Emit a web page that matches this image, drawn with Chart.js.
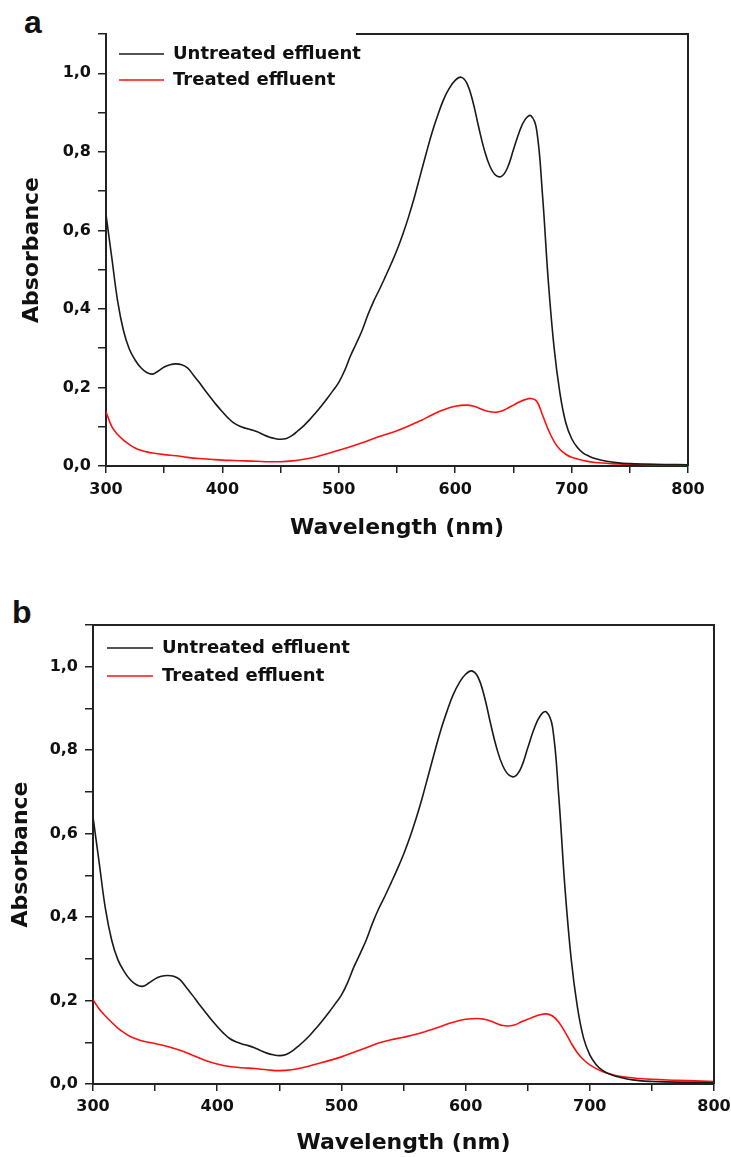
<!DOCTYPE html>
<html>
<head>
<meta charset="utf-8">
<title>UV-Vis absorbance of effluent</title>
<script src="https://cdn.jsdelivr.net/npm/chart.js@4.4.1/dist/chart.umd.min.js"></script>
<style>
  html, body { margin: 0; padding: 0; background: #fff; }
  body { width: 731px; height: 1157px; position: relative; overflow: hidden; }
  canvas { position: absolute; left: 0; }
  .panel-label { position: absolute; font: bold 32px "Liberation Sans", Arial, sans-serif; line-height: 1; color: #111; }
</style>
</head>
<body>
<div class="panel-label" style="left:24px; top:6px;">a</div>
<canvas id="chartA" width="731" height="546" style="top:0px;"></canvas>
<div class="panel-label" style="left:12px; top:596px;">b</div>
<canvas id="chartB" width="731" height="577" style="top:580px;"></canvas>

<script>
// ---- spectra (wavelength in nm, absorbance) ----
const wlUntreated = [300,305,310,315,320,325,330,335,340,345,350,355,360,365,370,375,380,385,390,395,
  400,405,410,415,420,425,430,435,440,445,450,455,460,465,470,475,480,485,490,495,
  500,505,510,515,520,525,530,535,540,545,550,555,560,565,570,575,580,585,590,595,
  600,605,610,615,620,625,630,635,640,645,650,655,660,665,670,675,680,685,690,695,
  700,705,710,715,720,730,740,750,760,780,800];
const absUntreated = [0.64,0.53,0.42,0.345,0.298,0.27,0.25,0.238,0.234,0.242,
  0.252,0.258,0.26,0.258,0.25,0.232,0.213,0.193,0.174,0.155,
  0.138,0.122,0.109,0.101,0.096,0.092,0.087,0.08,0.074,0.07,
  0.068,0.07,0.078,0.09,0.103,0.118,0.135,0.153,0.172,0.192,
  0.213,0.243,0.28,0.312,0.345,0.385,0.42,0.45,0.482,0.515,
  0.55,0.59,0.635,0.685,0.74,0.795,0.848,0.893,0.933,0.962,
  0.982,0.99,0.975,0.93,0.865,0.805,0.762,0.74,0.738,0.76,
  0.805,0.85,0.882,0.892,0.855,0.69,0.47,0.3,0.185,0.11,
  0.07,0.047,0.033,0.025,0.019,0.012,0.008,0.006,0.005,0.004,0.003];

const wlTreatedA = [300,305,310,315,320,325,330,335,340,350,360,370,380,390,400,410,420,430,440,
  450,460,470,480,490,500,510,520,530,540,550,560,570,580,590,600,610,
  615,620,625,630,635,640,645,650,655,660,665,670,675,680,685,690,695,700,
  710,720,730,740,760,780,800];
const absTreatedA = [0.138,0.1,0.08,0.066,0.055,0.046,0.04,0.036,0.033,0.029,0.026,0.022,0.019,0.017,0.015,0.014,0.013,0.012,0.011,
  0.011,0.013,0.017,0.023,0.031,0.04,0.049,0.059,0.07,0.08,0.09,0.102,0.115,0.13,0.143,0.152,0.155,
  0.153,0.148,0.142,0.138,0.137,0.14,0.147,0.155,0.163,0.169,0.172,0.165,0.13,0.092,0.062,0.042,0.03,0.022,
  0.014,0.009,0.007,0.005,0.004,0.003,0.003];

const wlTreatedB = [300,305,310,315,320,325,330,335,340,350,360,370,380,390,400,410,420,430,440,
  450,460,470,480,490,500,510,520,530,540,550,560,570,580,590,600,610,
  615,620,625,630,635,640,645,650,655,660,665,670,675,680,685,690,695,700,
  710,720,730,740,750,770,800];
const absTreatedB = [0.202,0.18,0.163,0.148,0.134,0.123,0.114,0.108,0.103,0.097,0.09,0.081,0.069,0.057,0.048,0.042,0.039,0.037,0.034,
  0.032,0.034,0.04,0.048,0.056,0.065,0.076,0.087,0.098,0.106,0.112,0.119,0.128,0.138,0.148,0.155,0.157,
  0.155,0.151,0.145,0.14,0.139,0.142,0.149,0.155,0.161,0.166,0.168,0.163,0.148,0.125,0.098,0.075,0.058,0.046,
  0.03,0.021,0.016,0.013,0.011,0.009,0.006];

const seriesNames = ['Untreated effluent', 'Treated effluent'];
const xTickLabels = [300, 400, 500, 600, 700, 800];
const yTickLabels = ['0,0', '0,2', '0,4', '0,6', '0,8', '1,0'];

// ---- shared look ----
Chart.defaults.font.family = "'DejaVu Sans', sans-serif";
Chart.defaults.color = '#111';
const INK = '#222';

const pairs = (xs, ys) => xs.map((x, i) => ({ x, y: ys[i] }));

// Places the legend inside the plot area at a fixed offset from its top-left corner.
const legendInside = {
  id: 'legendInside',
  afterLayout(chart, args, opts) {
    const lg = chart.legend, ca = chart.chartArea;
    if (!lg) return;
    lg.left = ca.left + opts.dx;
    lg.top = ca.top + opts.dy;
    lg.right = ca.right;
    lg.bottom = ca.bottom;
  }
};

// Draws the top and right edges of the plot frame; the top edge can stop short of the legend.
const plotFrame = {
  id: 'plotFrame',
  afterDatasetsDraw(chart, args, opts) {
    const { ctx, chartArea: ca } = chart;
    let x0 = ca.left;
    if (opts.skipLegend && chart.legend) {
      const lg = chart.legend, lab = lg.options.labels;
      ctx.save();
      ctx.font = Chart.helpers.toFont(lab.font).string;
      const tw = Math.max(...seriesNames.map(s => ctx.measureText(s).width));
      ctx.restore();
      x0 = lg.left + lab.padding + lab.pointStyleWidth + lab.font.size / 2 + tw - 5;
    }
    ctx.save();
    ctx.strokeStyle = INK;
    ctx.lineWidth = 2;
    ctx.beginPath();
    ctx.moveTo(x0, ca.top);
    ctx.lineTo(ca.right, ca.top);
    ctx.lineTo(ca.right, ca.bottom);
    ctx.stroke();
    ctx.restore();
  }
};

function makePanel(canvasId, wlTreated, absTreated, g) {
  return new Chart(document.getElementById(canvasId), {
    type: 'line',
    data: {
      datasets: [
        { label: seriesNames[0], data: pairs(wlUntreated, absUntreated),
          borderColor: '#1a1a1a', backgroundColor: '#1a1a1a', borderWidth: 1.6 },
        { label: seriesNames[1], data: pairs(wlTreated, absTreated),
          borderColor: '#ff1010', backgroundColor: '#ff1010', borderWidth: 1.6 }
      ]
    },
    options: {
      responsive: false,
      animation: false,
      devicePixelRatio: 1,
      parsing: false,
      elements: {
        point: { radius: 0, hoverRadius: 0 },
        line: { tension: 0.4, fill: false }
      },
      layout: { padding: { left: 0, top: g.padTop, right: g.padRight, bottom: 0 } },
      scales: {
        x: {
          type: 'linear', min: 300, max: 800,
          ticks: {
            stepSize: 50, autoSkip: false, maxRotation: 0, padding: g.xTickPad,
            font: { size: 16, weight: 'bold' }, color: '#111',
            callback: v => xTickLabels.includes(v) ? String(v) : ''
          },
          grid: { drawOnChartArea: false, drawTicks: true, tickLength: 7, color: INK, lineWidth: 1.5 },
          border: { display: true, color: INK, width: 2 },
          title: { display: true, text: 'Wavelength (nm)', color: '#111',
            font: { size: 22, weight: 'bold' }, padding: { top: 0, bottom: g.xTitlePad } },
          afterFit(s) { s.height = g.xAxisH; s.paddingLeft = 0; s.paddingRight = 0; }
        },
        y: {
          type: 'linear', min: 0, max: 1.1,
          ticks: {
            stepSize: 0.1, autoSkip: false, padding: 7,
            font: { size: 16, weight: 'bold' }, color: '#111',
            callback: v => {
              const k = Math.round(v * 10);
              return k % 2 === 0 ? (yTickLabels[k / 2] || '') : '';
            }
          },
          grid: { drawOnChartArea: false, drawTicks: true, tickLength: 8, color: INK, lineWidth: 1.5 },
          border: { display: true, color: INK, width: 2 },
          title: { display: true, text: 'Absorbance', color: '#111',
            font: { size: 22, weight: 'bold' }, padding: { top: g.yTitlePad, bottom: 0 } },
          afterFit(s) { s.width = g.yAxisW; s.paddingTop = 0; s.paddingBottom = 0; }
        }
      },
      plugins: {
        legend: {
          position: 'chartArea', align: 'start',
          labels: {
            usePointStyle: true, pointStyle: 'line', pointStyleWidth: g.legendLine,
            padding: g.legendPad, color: '#111', font: { size: 18, weight: 'bold' }
          }
        },
        tooltip: { enabled: false },
        legendInside: { dx: g.legendDx, dy: g.legendDy },
        plotFrame: { skipLegend: g.skipLegend }
      }
    },
    plugins: [legendInside, plotFrame]
  });
}

makePanel('chartA', wlTreatedA, absTreatedA, {
  padTop: 34, padRight: 43, xAxisH: 80, yAxisW: 106,
  xTickPad: 7, xTitlePad: 4.8, yTitlePad: 18.8,
  legendLine: 45, legendPad: 8, legendDx: 5, legendDy: 3, skipLegend: true
});

makePanel('chartB', wlTreatedB, absTreatedB, {
  padTop: 45, padRight: 17, xAxisH: 73, yAxisW: 93,
  xTickPad: 6.4, xTitlePad: 0.8, yTitlePad: 7.8,
  legendLine: 46, legendPad: 10, legendDx: 4, legendDy: 4, skipLegend: false
});
</script>
</body>
</html>
